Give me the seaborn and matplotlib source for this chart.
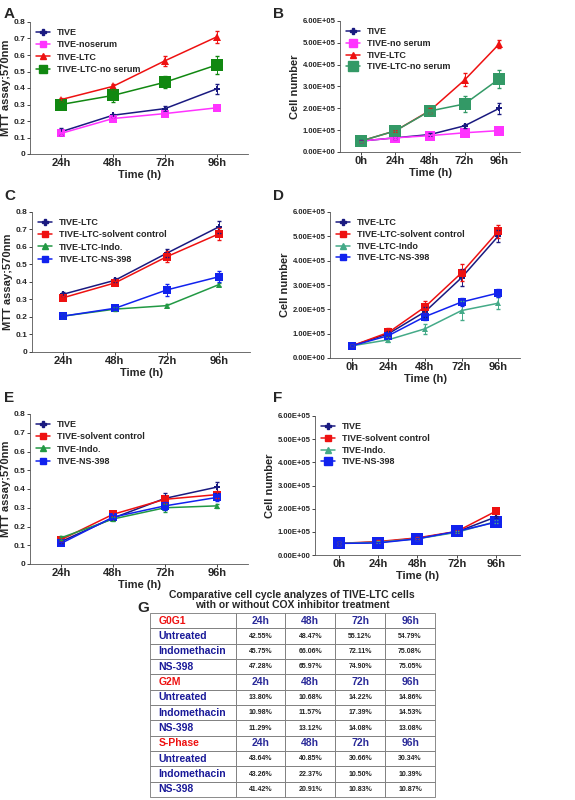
import matplotlib
matplotlib.use("Agg")
import matplotlib.pyplot as plt
import numpy as np
import pandas as pd
import seaborn as sns

T4 = ["24h", "48h", "72h", "96h"]
T5 = ["0h", "24h", "48h", "72h", "96h"]

# Panel A - MTT
A_NAMES = ["TIVE", "TIVE-noserum", "TIVE-LTC", "TIVE-LTC-no serum"]
A_VALS = [[0.135, 0.235, 0.275, 0.395], [0.125, 0.215, 0.245, 0.28],
          [0.33, 0.41, 0.565, 0.71], [0.30, 0.355, 0.435, 0.54]]
A_ERR = [[0.02, 0.01, 0.015, 0.03], [0.01, 0.01, 0.01, 0.01],
         [0.01, 0.015, 0.03, 0.035], [0.02, 0.04, 0.035, 0.055]]

# Panel B - cell number
B_NAMES = ["TIVE", "TIVE-no serum", "TIVE-LTC", "TIVE-LTC-no serum"]
B_VALS = [[0.5e5, 0.65e5, 0.8e5, 1.2e5, 2.0e5], [0.5e5, 0.65e5, 0.75e5, 0.88e5, 0.98e5],
          [0.5e5, 0.97e5, 1.9e5, 3.3e5, 4.95e5], [0.5e5, 0.97e5, 1.88e5, 2.2e5, 3.35e5]]
B_ERR = [[0.05e5, 0.05e5, 0.05e5, 0.1e5, 0.25e5], [0.02e5, 0.05e5, 0.05e5, 0.05e5, 0.05e5],
         [0.02e5, 0.05e5, 0.1e5, 0.3e5, 0.2e5], [0.02e5, 0.1e5, 0.1e5, 0.35e5, 0.4e5]]

# Panel C
C_NAMES = ["TIVE-LTC", "TIVE-LTC-solvent control", "TIVE-LTC-Indo.", "TIVE-LTC-NS-398"]
C_VALS = [[0.33, 0.41, 0.565, 0.715], [0.31, 0.395, 0.545, 0.675],
          [0.205, 0.245, 0.265, 0.385], [0.205, 0.25, 0.355, 0.43]]
C_ERR = [[0.01, 0.01, 0.025, 0.035], [0.01, 0.01, 0.03, 0.035],
         [0.01, 0.01, 0.01, 0.01], [0.01, 0.01, 0.035, 0.03]]

# Panel D
D_NAMES = ["TIVE-LTC", "TIVE-LTC-solvent control", "TIVE-LTC-Indo", "TIVE-LTC-NS-398"]
D_VALS = [[0.5e5, 1.0e5, 1.9e5, 3.3e5, 5.0e5], [0.5e5, 1.05e5, 2.1e5, 3.5e5, 5.2e5],
          [0.5e5, 0.75e5, 1.2e5, 1.95e5, 2.25e5], [0.5e5, 0.92e5, 1.7e5, 2.3e5, 2.67e5]]
D_ERR = [[0.02e5, 0.1e5, 0.2e5, 0.35e5, 0.25e5], [0.02e5, 0.2e5, 0.25e5, 0.35e5, 0.25e5],
         [0.02e5, 0.1e5, 0.2e5, 0.4e5, 0.25e5], [0.02e5, 0.1e5, 0.15e5, 0.15e5, 0.15e5]]

# Panel E
E_NAMES = ["TIVE", "TIVE-solvent control", "TIVE-Indo.", "TIVE-NS-398"]
E_VALS = [[0.12, 0.245, 0.35, 0.41], [0.13, 0.265, 0.345, 0.37],
          [0.14, 0.24, 0.30, 0.31], [0.11, 0.25, 0.31, 0.355]]
E_ERR = [[0.01, 0.01, 0.03, 0.03], [0.01, 0.01, 0.02, 0.02],
         [0.01, 0.01, 0.02, 0.01], [0.01, 0.01, 0.02, 0.02]]

# Panel F
F_NAMES = ["TIVE", "TIVE-solvent control", "TIVE-Indo.", "TIVE-NS-398"]
F_VALS = [[0.5e5, 0.55e5, 0.72e5, 1.0e5, 1.65e5], [0.5e5, 0.58e5, 0.74e5, 1.02e5, 1.9e5],
          [0.5e5, 0.55e5, 0.7e5, 0.98e5, 1.45e5], [0.5e5, 0.52e5, 0.7e5, 1.02e5, 1.42e5]]
F_ERR = [[0.05e5] * 5, [0.05e5] * 5, [0.05e5] * 5, [0.05e5, 0.05e5, 0.05e5, 0.1e5, 0.15e5]]

# Panel G - table
G_TITLE = "Comparative cell cycle analyzes of TIVE-LTC cells\nwith or without COX inhibitor treatment"
G_ROWS = [
    ["G0G1", "24h", "48h", "72h", "96h"],
    ["Untreated", "42.55%", "48.47%", "55.12%", "54.79%"],
    ["Indomethacin", "45.75%", "66.06%", "72.11%", "75.08%"],
    ["NS-398", "47.28%", "65.97%", "74.90%", "75.05%"],
    ["G2M", "24h", "48h", "72h", "96h"],
    ["Untreated", "13.80%", "10.68%", "14.22%", "14.86%"],
    ["Indomethacin", "10.98%", "11.57%", "17.39%", "14.53%"],
    ["NS-398", "11.29%", "13.12%", "14.08%", "13.08%"],
    ["S-Phase", "24h", "48h", "72h", "96h"],
    ["Untreated", "43.64%", "40.85%", "30.66%", "30.34%"],
    ["Indomethacin", "43.26%", "22.37%", "10.50%", "10.39%"],
    ["NS-398", "41.42%", "20.91%", "10.83%", "10.87%"],
]

ABC_COLORS = ["#1a1a80", "#ff33ff", "#ee1111", "#118811"]
ABC_MARK = ["P", "s", "^", "s"]
ABC_MS = [5, 6, 6, 8]
B_COLORS = ["#1a1a80", "#ff33ff", "#ee1111", "#339966"]
B_MS = [5, 7, 6, 9]
TRT_COLORS = ["#1a1a80", "#ee1111", "#229944", "#1122ee"]
TRT_MARK = ["P", "s", "^", "s"]
TRT_MS = [5, 6, 5, 6]
D_COLORS = ["#1a1a80", "#ee1111", "#44aa88", "#1122ee"]
F_MS = [5, 6, 5, 8]

sns.set_theme(style="ticks")
plt.rcParams["font.family"] = ["Liberation Sans", "DejaVu Sans"]
plt.rcParams["font.weight"] = "bold"

W, H = 575, 800
fig = plt.figure(figsize=(W / 100, H / 100), dpi=100)


def ax_px(x0, y0, x1, y1):
    return fig.add_axes([x0 / W, 1 - y1 / H, (x1 - x0) / W, (y1 - y0) / H])


def panel(ax, times, names, vals, errs, colors, markers, sizes, ylabel, ymax, ystep, sci, letter):
    rows = []
    for n, v in zip(names, vals):
        for t, y in zip(times, v):
            rows.append({"Time": t, "Group": n, "Value": y})
    df = pd.DataFrame(rows)
    pos = {t: i for i, t in enumerate(times)}
    df["x"] = df["Time"].map(pos)
    sns.lineplot(data=df, x="x", y="Value", hue="Group", style="Group",
                 palette=dict(zip(names, colors)), markers=dict(zip(names, markers)),
                 dashes=False, ax=ax, linewidth=1.1, markeredgewidth=0, legend=False)
    # marker sizes per series
    for line, ms in zip(ax.lines, sizes):
        line.set_markersize(ms)
    handles = []
    for n, v, e, c, m, ms in zip(names, vals, errs, colors, markers, sizes):
        ax.errorbar(range(len(times)), v, yerr=e, fmt="none", ecolor=c, elinewidth=0.7, capsize=1.5)
        handles.append(plt.Line2D([], [], color=c, marker=m, markersize=ms * 0.8, lw=1.1, label=n))
    ax.legend(handles=handles, loc="upper left", frameon=False, fontsize=6.5,
              handlelength=1.5, labelspacing=0.35 if ymax < 1 else 0.3, borderaxespad=0.3)
    ax.set_xlim(-0.6, len(times) - 0.4)
    ax.set_ylim(0, ymax)
    ax.set_xticks(range(len(times)))
    ax.set_xticklabels(times, fontsize=8, fontweight="bold")
    ticks = np.arange(0, ymax + ystep / 2, ystep)
    ax.set_yticks(ticks)
    if sci:
        ax.set_yticklabels([f"{t:.2E}" for t in ticks], fontsize=5.5, fontweight="bold")
    else:
        ax.set_yticklabels([f"{t:g}" for t in ticks], fontsize=6, fontweight="bold")
    ax.set_xlabel("Time (h)", fontsize=8, fontweight="bold", labelpad=1)
    ax.set_ylabel(ylabel, fontsize=8, fontweight="bold", labelpad=2)
    ax.tick_params(length=2, width=0.6, pad=1)
    sns.despine(ax=ax)
    for s in ax.spines.values():
        s.set_linewidth(0.6)
        s.set_color("#555555")


axA = ax_px(30, 22, 248, 154)
panel(axA, T4, A_NAMES, A_VALS, A_ERR, ABC_COLORS, ABC_MARK, ABC_MS, "MTT assay;570nm", 0.8, 0.1, False, "A")
axB = ax_px(340, 21, 520, 152)
panel(axB, T5, B_NAMES, B_VALS, B_ERR, B_COLORS, ABC_MARK, B_MS, "Cell number", 6e5, 1e5, True, "B")
axC = ax_px(32, 212, 250, 352)
panel(axC, T4, C_NAMES, C_VALS, C_ERR, TRT_COLORS, TRT_MARK, TRT_MS, "MTT assay;570nm", 0.8, 0.1, False, "C")
axD = ax_px(330, 212, 520, 358)
panel(axD, T5, D_NAMES, D_VALS, D_ERR, D_COLORS, TRT_MARK, TRT_MS, "Cell number", 6e5, 1e5, True, "D")
axE = ax_px(30, 414, 248, 564)
panel(axE, T4, E_NAMES, E_VALS, E_ERR, TRT_COLORS, TRT_MARK, TRT_MS, "MTT assay;570nm", 0.8, 0.1, False, "E")
axF = ax_px(315, 416, 520, 555)
panel(axF, T5, F_NAMES, F_VALS, F_ERR, D_COLORS, TRT_MARK, F_MS, "Cell number", 6e5, 1e5, True, "F")

for letter, x, y in [("A", 4, 14), ("B", 273, 14), ("C", 4, 196), ("D", 273, 196),
                     ("E", 4, 398), ("F", 273, 398), ("G", 137, 608)]:
    fig.text(x / W, 1 - y / H, letter, fontsize=11, fontweight="bold", va="center")

fig.text(292 / W, 1 - 600 / H, G_TITLE, fontsize=7.5, fontweight="bold", ha="center", va="center",
         linespacing=1.0)

axG = ax_px(150, 613, 435, 797)
axG.axis("off")
tab = axG.table(cellText=G_ROWS, colWidths=[0.3, 0.175, 0.175, 0.175, 0.175],
                cellLoc="center", bbox=[0, 0, 1, 1])
tab.auto_set_font_size(False)
for (r, c), cell in tab.get_celld().items():
    cell.set_linewidth(0.6)
    cell.set_edgecolor("#777777")
    txt = cell.get_text()
    header = G_ROWS[r][1] == "24h"
    if c == 0:
        cell._loc = "left"
        txt.set_ha("left")
        txt.set_x(0.02)
        txt.set_color("#ee1111" if header else "#1a1a99")
        txt.set_fontsize(7.5)
        txt.set_fontweight("bold")
    elif header:
        txt.set_color("#2a2a99")
        txt.set_fontsize(7.5)
        txt.set_fontweight("bold")
    else:
        txt.set_color("#222222")
        txt.set_fontsize(5)
        txt.set_fontweight("bold")

fig.savefig("out.png", dpi=100)
